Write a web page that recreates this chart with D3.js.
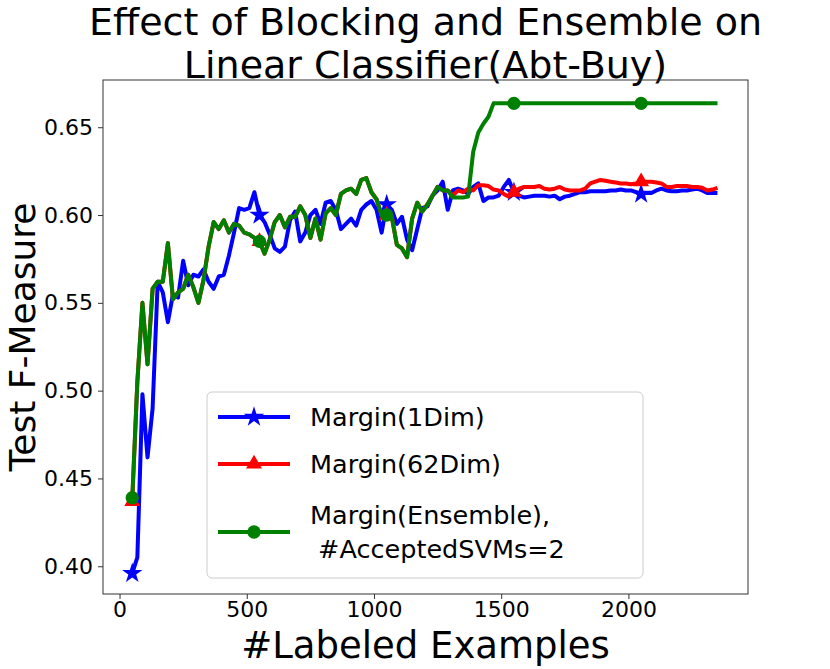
<!DOCTYPE html>
<html>
<head>
<meta charset="utf-8">
<script src="https://cdn.jsdelivr.net/npm/d3@7"></script>
<style>
body { margin: 0; background: #fff; }
text { font-family: "DejaVu Sans", sans-serif; }
</style>
</head>
<body>
<svg id="chart" width="830" height="669"></svg>
<script>
const xs = [50,70,90,110,130,150,170,190,210,230,250,270,290,310,330,350,370,390,410,430,
450,470,490,510,530,550,570,590,610,630,650,670,690,710,730,750,770,790,810,830,
850,870,890,910,930,950,970,990,1010,1030,1050,1070,1090,1110,1130,1150,1170,1190,1210,1230,
1250,1270,1290,1310,1330,1350,1370,1390,1410,1430,1450,1470,1490,1510,1530,1550,1570,1590,1610,1630,
1650,1670,1690,1710,1730,1750,1770,1790,1810,1830,1850,1870,1890,1910,1930,1950,1970,1990,2010,2030,
2050,2070,2090,2110,2130,2150,2170,2190,2210,2230,2250,2270,2290,2310,2330,2350];

const blue = [0.396,0.405,0.498,0.462,0.490,0.562,0.556,0.539,0.555,0.553,
0.574,0.560,0.566,0.565,0.569,0.562,0.558,0.565,0.566,0.577,
0.590,0.604,0.603,0.604,0.613,0.600,0.596,0.589,0.581,0.579,
0.582,0.597,0.602,0.585,0.590,0.600,0.603,0.595,0.607,0.608,
0.603,0.592,0.595,0.598,0.594,0.603,0.606,0.608,0.603,0.590,
0.606,0.603,0.595,0.599,0.586,0.580,0.592,0.604,0.605,0.611,
0.614,0.619,0.603,0.614,0.615,0.614,0.612,0.616,0.618,0.608,
0.610,0.610,0.611,0.616,0.620,0.613,0.611,0.610,0.6105,0.611,
0.611,0.611,0.6105,0.611,0.609,0.6105,0.611,0.612,0.613,0.613,
0.6135,0.6135,0.6135,0.6135,0.614,0.614,0.6145,0.614,0.614,0.613,
0.612,0.6125,0.6125,0.614,0.615,0.614,0.6135,0.6135,0.614,0.614,
0.6145,0.615,0.614,0.6125,0.6125,0.6125];

const red = [0.437,0.505,0.550,0.515,0.558,0.562,0.562,0.584,0.552,0.556,
0.558,0.566,0.559,0.550,0.563,0.582,0.596,0.592,0.597,0.590,
0.595,0.594,0.590,0.589,0.587,0.585,0.578,0.586,0.596,0.600,
0.593,0.599,0.599,0.605,0.600,0.587,0.598,0.586,0.601,0.604,
0.600,0.612,0.614,0.615,0.612,0.620,0.621,0.613,0.609,0.600,
0.600,0.599,0.583,0.581,0.576,0.598,0.607,0.602,0.606,0.611,
0.616,0.614,0.614,0.611,0.614,0.613,0.615,0.614,0.617,0.617,
0.6165,0.6145,0.614,0.612,0.6105,0.613,0.615,0.616,0.616,0.616,
0.6165,0.615,0.6145,0.615,0.616,0.6145,0.614,0.614,0.614,0.615,
0.618,0.619,0.620,0.6195,0.619,0.6185,0.618,0.618,0.6175,0.618,
0.619,0.619,0.619,0.6185,0.618,0.616,0.616,0.6165,0.6165,0.6165,
0.616,0.616,0.6155,0.614,0.6145,0.6155];

const green = [0.439,0.505,0.550,0.515,0.558,0.562,0.562,0.584,0.552,0.556,
0.558,0.566,0.559,0.550,0.563,0.582,0.596,0.592,0.597,0.590,
0.595,0.594,0.590,0.589,0.587,0.585,0.578,0.586,0.596,0.600,
0.593,0.599,0.599,0.605,0.600,0.587,0.598,0.586,0.601,0.604,
0.600,0.612,0.614,0.615,0.612,0.620,0.621,0.613,0.609,0.600,
0.600,0.599,0.583,0.581,0.576,0.598,0.607,0.602,0.606,0.611,
0.616,0.614,0.614,0.610,0.610,0.610,0.6105,0.636,0.647,0.652,
0.656,0.6636,0.6636,0.6636,0.6636,0.6636,0.6636,0.6636,0.6636,0.6636,
0.6636,0.6636,0.6636,0.6636,0.6636,0.6636,0.6636,0.6636,0.6636,0.6636,
0.6636,0.6636,0.6636,0.6636,0.6636,0.6636,0.6636,0.6636,0.6636,0.6636,
0.6636,0.6636,0.6636,0.6636,0.6636,0.6636,0.6636,0.6636,0.6636,0.6636,
0.6636,0.6636,0.6636,0.6636,0.6636,0.6636];

const markerX = [50, 550, 1050, 1550, 2050];
const xTicks = [0, 500, 1000, 1500, 2000];
const yTicks = [0.40, 0.45, 0.50, 0.55, 0.60, 0.65];
const titleLines = ["Effect of Blocking and Ensemble on", "Linear Classifier(Abt-Buy)"];
const xLabel = "#Labeled Examples";
const yLabel = "Test F-Measure";

const series = [
  {name: ["Margin(1Dim)"], values: blue, color: "#0000ff", marker: "star"},
  {name: ["Margin(62Dim)"], values: red, color: "#ff0000", marker: "triangle"},
  {name: ["Margin(Ensemble),", " #AcceptedSVMs=2"], values: green, color: "#008000", marker: "circle"}
];

const svg = d3.select("#chart");
const L = 103, R = 748, T = 80, B = 594;
const x = d3.scaleLinear().domain([-65, 2470]).range([L, R]);
const y = d3.scaleLinear().domain([0.3842, 0.6769]).range([B, T]);

const symbolOf = {
  star: d3.symbol().type(d3.symbolStar).size(130),
  triangle: d3.symbol().type(d3.symbolTriangle).size(110),
  circle: d3.symbol().type(d3.symbolCircle).size(140)
};

// title
svg.append("g").selectAll("text").data(titleLines).join("text")
  .attr("x", (L + R) / 2).attr("y", (d, i) => 35 + i * 43)
  .attr("text-anchor", "middle").attr("font-size", 38).attr("fill", "#000")
  .text(d => d);

// axes
const gx = svg.append("g").attr("transform", `translate(0,${B})`)
  .call(d3.axisBottom(x).tickValues(xTicks).tickSize(5).tickPadding(2).tickFormat(d3.format("d")));
const gy = svg.append("g").attr("transform", `translate(${L},0)`)
  .call(d3.axisLeft(y).tickValues(yTicks).tickSize(5).tickPadding(5).tickFormat(d3.format(".2f")));
[gx, gy].forEach(g => {
  g.select(".domain").remove();
  g.selectAll(".tick line").attr("stroke", "#333");
  g.selectAll(".tick text").attr("font-size", 22).attr("fill", "#000").style("font-family", "DejaVu Sans");
});

const plot = svg.append("g");
const line = d3.line().x((d, i) => x(xs[i])).y(d => y(d));
series.forEach(s => {
  plot.append("path").datum(s.values).attr("d", line)
    .attr("fill", "none").attr("stroke", s.color).attr("stroke-width", 4)
    .attr("stroke-linejoin", "round").attr("stroke-linecap", "butt");
  plot.selectAll(null).data(markerX).join("path")
    .attr("d", symbolOf[s.marker])
    .attr("transform", d => `translate(${x(d)},${y(s.values[xs.indexOf(d)])})`)
    .attr("fill", s.color);
});

// frame
svg.append("rect").attr("x", L).attr("y", T).attr("width", R - L).attr("height", B - T)
  .attr("fill", "none").attr("stroke", "#333").attr("stroke-width", 1);

// labels
svg.append("text").attr("x", (L + R) / 2).attr("y", 658).attr("text-anchor", "middle")
  .attr("font-size", 37).text(xLabel);
svg.append("text").attr("transform", `translate(35,${(T + B) / 2}) rotate(-90)`)
  .attr("text-anchor", "middle").attr("font-size", 36).text(yLabel);

// legend
const lg = svg.append("g");
lg.append("rect").attr("x", 207).attr("y", 392).attr("width", 436).attr("height", 186)
  .attr("rx", 5).attr("fill", "#fff").attr("fill-opacity", 0.8)
  .attr("stroke", "#ccc").attr("stroke-width", 1);
const rowY = [417, 464, 532];
series.forEach((s, i) => {
  const yy = rowY[i];
  lg.append("line").attr("x1", 218).attr("x2", 290).attr("y1", yy).attr("y2", yy)
    .attr("stroke", s.color).attr("stroke-width", 4);
  lg.append("path").attr("d", symbolOf[s.marker]).attr("transform", `translate(254,${yy})`)
    .attr("fill", s.color);
  const n = s.name.length;
  s.name.forEach((t, j) => {
    lg.append("text").attr("x", 310).attr("y", yy + 9 + (j - (n - 1) / 2) * 34)
      .attr("font-size", 25.5).style("white-space", "pre").attr("fill", "#000").text(t);
  });
});
</script>
</body>
</html>
